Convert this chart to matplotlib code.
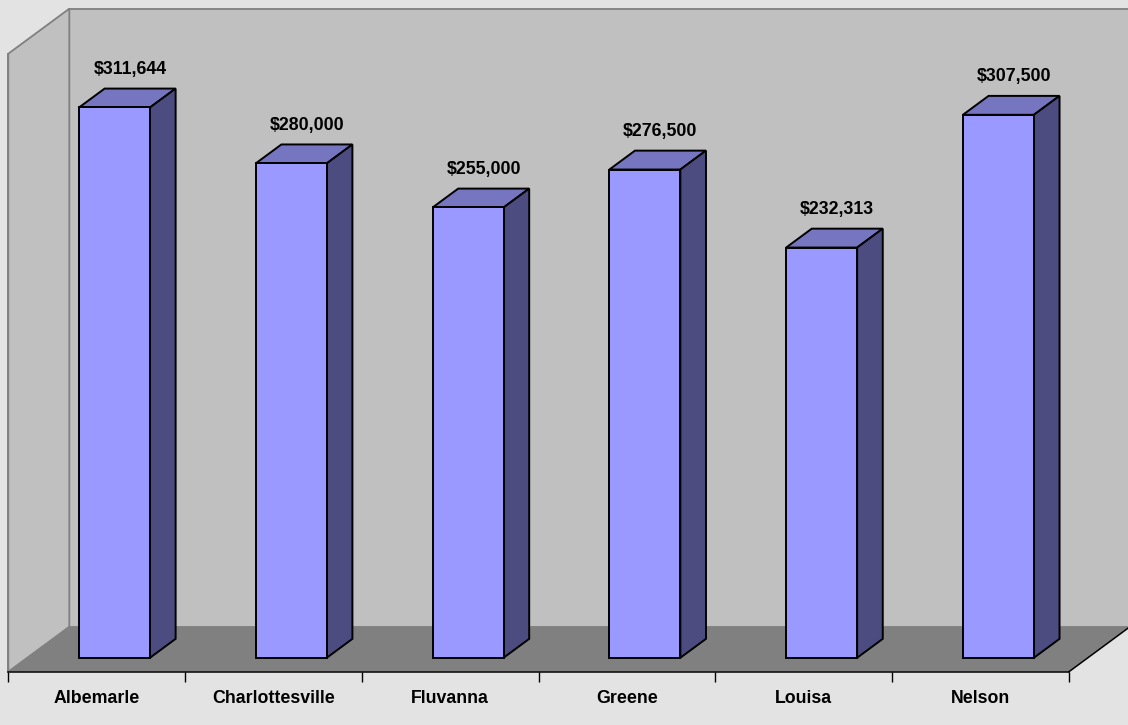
import matplotlib
matplotlib.use("Agg")
import matplotlib.pyplot as plt
from matplotlib.patches import Polygon

# Median home sale price by locality
localities = ["Albemarle", "Charlottesville", "Fluvanna", "Greene", "Louisa", "Nelson"]
prices = [311644, 280000, 255000, 276500, 232313, 307500]
value_max = 350000

plt.rcParams["font.family"] = ["Liberation Sans", "DejaVu Sans"]

W, H = 1128, 725
fig = plt.figure(figsize=(W / 100, H / 100), dpi=100)
fig.patch.set_facecolor("#e3e3e3")

# front plane of the 3-D box, in pixels
left_px, right_px, base_px, top_px = 8.3, 1069.0, 671.7, 53.7
ax = fig.add_axes([left_px / W, (H - base_px) / H,
                   (right_px - left_px) / W, (base_px - top_px) / H])
ax.set_xlim(0, len(localities))
ax.set_ylim(0, value_max)
ax.patch.set_visible(False)

# oblique depth offset (full depth of the box) in data units
px_per_cat = (right_px - left_px) / len(localities)
px_per_val = (base_px - top_px) / value_max
DX = 61 / px_per_cat
DY = 45 / px_per_val


def proj(x, y, z):
    return (x + z * DX, y + z * DY)


def face(pts, fc, ec, lw, z):
    poly = Polygon([proj(*p) for p in pts], closed=True, facecolor=fc,
                   edgecolor=ec, linewidth=lw, clip_on=False, zorder=z,
                   joinstyle="miter")
    ax.add_patch(poly)


n = len(localities)
wall_c, floor_c, wall_edge = "#c0c0c0", "#808080", "#808080"

# walls and floor
face([(0, 0, 1), (n, 0, 1), (n, value_max, 1), (0, value_max, 1)],
     wall_c, wall_edge, 1.3, 1)
face([(0, 0, 0), (0, 0, 1), (0, value_max, 1), (0, value_max, 0)],
     wall_c, wall_edge, 1.3, 1)
face([(0, 0, 0), (n, 0, 0), (n, 0, 1), (0, 0, 1)], floor_c, "none", 0, 2)
x0, y0 = proj(n, 0, 0)
x1, y1 = proj(n, 0, 1)
ax.plot([x0, x1], [y0, y1], color="black", lw=1.1, clip_on=False, zorder=3)

# bars
bar_off, bar_w = 0.293, 0.4016
z_front, z_back = 0.31, 0.73
front_c, top_c, side_c = "#9999ff", "#7575c0", "#4c4c80"
for i, v in enumerate(prices):
    xl, xr = i + bar_off, i + bar_off + bar_w
    face([(xl, 0, z_front), (xr, 0, z_front), (xr, v, z_front), (xl, v, z_front)],
         front_c, "black", 1.4, 5)
    face([(xl, v, z_front), (xr, v, z_front), (xr, v, z_back), (xl, v, z_back)],
         top_c, "black", 1.4, 4)
    face([(xr, 0, z_front), (xr, 0, z_back), (xr, v, z_back), (xr, v, z_front)],
         side_c, "black", 1.4, 4)
    lx, _ = proj((xl + xr) / 2, v, (z_front + z_back) / 2)
    _, ly = proj((xl + xr) / 2, v, z_back)
    ax.annotate(f"${v:,}", (lx + 0.015, ly), xytext=(0, 10.5),
                textcoords="offset points", ha="center", va="baseline",
                fontsize=12.8, fontweight="bold", annotation_clip=False,
                zorder=6)

# axes: category boundaries as major ticks, names centred between them
for s in ["top", "right"]:
    ax.spines[s].set_visible(False)
ax.spines["left"].set_color(wall_edge)
ax.spines["left"].set_linewidth(1.3)
ax.spines["bottom"].set_color("black")
ax.spines["bottom"].set_linewidth(1.1)
ax.spines["bottom"].set_zorder(3)
ax.set_yticks([])
ax.set_xticks(range(n + 1))
ax.set_xticklabels([])
ax.tick_params(axis="x", which="major", length=7.5, width=1, color="black",
               direction="out")
ax.set_xticks([i + 0.5 for i in range(n)], minor=True)
ax.set_xticklabels(localities, minor=True, fontsize=12.8, fontweight="bold")
ax.tick_params(axis="x", which="minor", length=0, pad=13.5)

fig.savefig("out.png", dpi=100, facecolor=fig.get_facecolor())
